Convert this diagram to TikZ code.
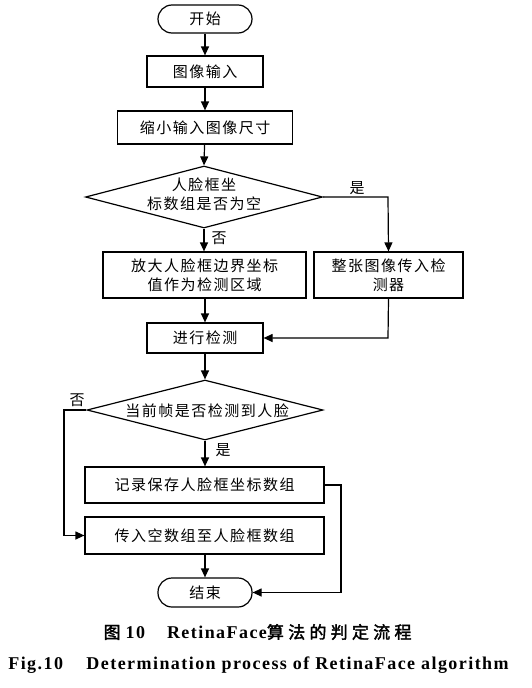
\documentclass[tikz,border=0pt]{standalone}
\usepackage{fontspec}
\setmainfont{Liberation Serif}
\newfontfamily\cjk[LetterSpace=10]{Noto Sans CJK SC}
\newfontfamily\cjkbold[FakeBold=2,LetterSpace=25]{Noto Sans CJK SC}
\newfontfamily\capserif[LetterSpace=8]{Liberation Serif}
\usetikzlibrary{arrows.meta,shapes.geometric}
\begin{document}
\begin{tikzpicture}[x=1pt,y=-1pt,
  line width=1.2pt,
  box/.style={draw,rectangle,inner sep=0pt,align=center,font=\cjk\fontsize{15}{19}\selectfont},
  term/.style={box,rounded corners=14pt},
  dia/.style={draw,diamond,inner sep=0pt},
  dtext/.style={align=center,inner sep=0pt,font=\cjk\fontsize{15}{19}\selectfont},
  lab/.style={inner sep=0pt,font=\cjk\fontsize{15}{18}\selectfont},
  arr/.style={-{Triangle[length=9pt,width=8pt]}},
]
\useasboundingbox[fill=white] (0,0) rectangle (531,688);

\node[term,minimum width=94pt,minimum height=28pt] (start) at (205,19) {开始};
\node[box,minimum width=116pt,minimum height=31pt] (in) at (205,71.5) {图像输入};
\node[box,minimum width=175pt,minimum height=33pt] (shrink) at (205,127.5) {缩小输入图像尺寸};
\node[dia,minimum width=237pt,minimum height=62pt] (d1) at (204,197) {};
\node[dtext] (d1t) at (204,194) {人脸框坐\\标数组是否为空};
\node[box,minimum width=203pt,minimum height=46pt] (enl) at (204.5,275) {放大人脸框边界坐标\\值作为检测区域};
\node[box,minimum width=149pt,minimum height=46pt] (whole) at (388.5,275) {整张图像传入检\\测器};
\node[box,minimum width=116pt,minimum height=30pt] (det) at (205,338) {进行检测};
\node[dia,minimum width=236pt,minimum height=60pt] (d2) at (205,410) {};
\node[dtext] (d2t) at (207,411) {当前帧是否检测到人脸};
\node[box,minimum width=239pt,minimum height=36pt] (rec) at (204.5,485) {记录保存人脸框坐标数组};
\node[box,minimum width=239pt,minimum height=37pt] (pass) at (204.5,535.5) {传入空数组至人脸框数组};
\node[term,minimum width=94pt,minimum height=29pt] (end) at (205,592.5) {结束};

\coordinate (c1) at (388,197);
\coordinate (c2) at (388,338);
\coordinate (c3) at (64,410);
\coordinate (c4) at (64,535.5);
\coordinate (c5) at (341,485);
\coordinate (c6) at (341,592.5);

\draw[arr] (start) -- (in);
\draw[arr] (in) -- (shrink);
\draw[arr] (shrink) -- (d1.north);
\draw[arr] (d1.south) -- (enl.north -| d1.south);
\draw[arr] (d1.east) -- (c1) -- (whole.north);
\draw[arr] (enl.south -| det.north) -- (det.north);
\draw[arr] (whole.south) -- (c2) -- (det.east);
\draw[arr] (det) -- (d2.north);
\draw[arr] (d2.south) -- (rec.north -| d2.south);
\draw[arr] (d2.west) -- (c3) -- (c4) -- (pass.west);
\draw[arr] (rec.east) -- (c5) -- (c6) -- (end.east);
\draw[arr] (pass.south -| end.north) -- (end.north);

\node[lab] (l1) at (357,188) {是};
\node[lab] (l2) at (219,238) {否};
\node[lab] (l3) at (77,400) {否};
\node[lab] (l4) at (223,450) {是};

\node[inner sep=0pt,anchor=west] (cap1) at (103,632) {{\cjkbold\fontsize{17}{20}\selectfont 图}\hspace{5pt}{\capserif\bfseries\fontsize{18}{20}\selectfont 10}\hspace{22pt}{\capserif\bfseries\fontsize{18}{20}\selectfont RetinaFace}{\cjkbold\fontsize{17}{20}\selectfont 算法的判定流程}};
\node[inner sep=0pt] (cap2) at (258.5,665) {\capserif\bfseries\fontsize{18}{20}\selectfont Fig.10\hspace{1.3em}Determination process of RetinaFace algorithm};
\end{tikzpicture}
\end{document}
